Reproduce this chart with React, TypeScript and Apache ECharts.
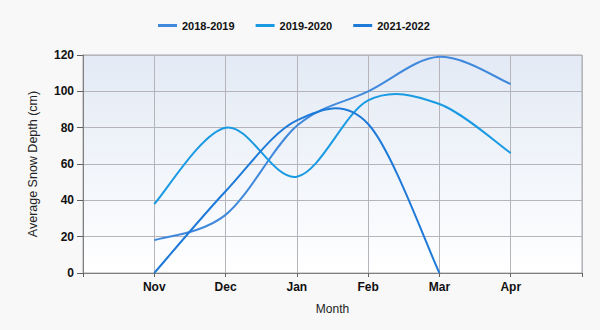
import React, { useEffect, useRef } from "react";
import * as echarts from "echarts";

const months = ["", "Nov", "Dec", "Jan", "Feb", "Mar", "Apr", ""];
const seriesNames = ["2018-2019", "2019-2020", "2021-2022"];
const s2018 = [null, 18, 32, 81, 100, 119, 104, null];
const s2019 = [null, 38, 80, 53, 95, 93, 66, null];
const s2021 = [null, 0, 45, 84, 82, 0, null, null];
const colors = ["#4189dc", "#1a9ae2", "#1e7ad8"];
const yTicks = { min: 0, max: 120, interval: 20 };

function toPoints(arr: (number | null)[]) {
  const out: [number, number][] = [];
  arr.forEach((v, i) => {
    if (v !== null) out.push([i, v]);
  });
  return out;
}

export default function App() {
  const ref = useRef<HTMLDivElement>(null);
  useEffect(() => {
    if (!ref.current) return;
    const chart = echarts.init(ref.current, null, { renderer: "svg" });
    const font = "'Liberation Sans', Arial, sans-serif";
    const data = [s2018, s2019, s2021].map(toPoints);
    chart.setOption({
      animation: false,
      backgroundColor: "#f8f8f8",
      legend: {
        left: 153,
        top: 15,
        itemGap: 21,
        itemWidth: 19,
        itemHeight: 3,
        icon: "rect",
        textStyle: { fontFamily: font, fontSize: 11, fontWeight: "bold", color: "#111" },
        data: seriesNames,
      },
      grid: {
        left: 83,
        right: 18,
        top: 55,
        bottom: 57,
        show: true,
        borderColor: "#a8a8ac",
        borderWidth: 1,
        backgroundColor: new echarts.graphic.LinearGradient(0, 0, 0, 1, [
          { offset: 0, color: "#e3eaf5" },
          { offset: 1, color: "#ffffff" },
        ]),
      },
      xAxis: {
        type: "category",
        data: months,
        boundaryGap: false,
        name: "Month",
        nameLocation: "middle",
        nameGap: 30,
        nameTextStyle: { fontFamily: font, fontSize: 12, color: "#222" },
        axisLine: { lineStyle: { color: "#808080", width: 1 } },
        axisTick: { show: true, length: 4, alignWithLabel: true, interval: 0, lineStyle: { color: "#606060" } },
        axisLabel: { fontFamily: font, fontSize: 12, fontWeight: "bold", color: "#111", margin: 8, interval: 0 },
        splitLine: { show: true, interval: 0, lineStyle: { color: "#b4b4ba", width: 1 } },
      },
      yAxis: {
        type: "value",
        min: yTicks.min,
        max: yTicks.max,
        interval: yTicks.interval,
        name: "Average Snow Depth (cm)",
        nameLocation: "middle",
        nameGap: 44,
        nameTextStyle: { fontFamily: font, fontSize: 12.5, color: "#222" },
        axisLine: { show: true, lineStyle: { color: "#808080", width: 1 } },
        axisTick: { show: true, length: 6, lineStyle: { color: "#606060" } },
        axisLabel: { fontFamily: font, fontSize: 12, fontWeight: "bold", color: "#111", margin: 9 },
        splitLine: { show: true, lineStyle: { color: "#b4b4ba", width: 1 } },
      },
      series: seriesNames.map((name, si) => ({
        name,
        type: "custom",
        coordinateSystem: "cartesian2d",
        clip: true,
        data: data[si],
        encode: { x: 0, y: 1 },
        itemStyle: { color: colors[si] },
        z: 3,
        renderItem: (params: any, api: any) => {
          if (params.dataIndex !== 0) return null;
          const pts = data[si].map((p) => api.coord(p));
          const n = pts.length;
          let d = `M${pts[0][0]},${pts[0][1]}`;
          for (let i = 0; i < n - 1; i++) {
            const p0 = pts[Math.max(0, i - 1)];
            const p1 = pts[i];
            const p2 = pts[i + 1];
            const p3 = pts[Math.min(n - 1, i + 2)];
            const c1x = p1[0] + (p2[0] - p0[0]) / 6;
            const c1y = p1[1] + (p2[1] - p0[1]) / 6;
            const c2x = p2[0] - (p3[0] - p1[0]) / 6;
            const c2y = p2[1] - (p3[1] - p1[1]) / 6;
            d += ` C${c1x},${c1y} ${c2x},${c2y} ${p2[0]},${p2[1]}`;
          }
          return {
            type: "path",
            shape: { pathData: d },
            style: { stroke: colors[si], lineWidth: 2, fill: "none" },
          };
        },
      })),
    });
    return () => chart.dispose();
  }, []);
  return (
    <div
      ref={ref}
      style={{ position: "fixed", left: 0, top: 0, width: 600, height: 330, background: "#f8f8f8" }}
    />
  );
}
